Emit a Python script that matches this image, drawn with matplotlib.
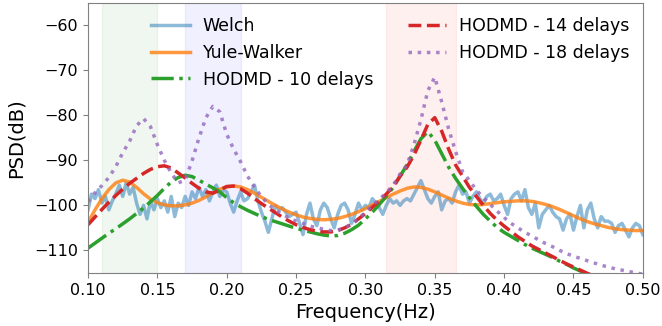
"""
PSD comparison: Welch vs Yule-Walker vs HODMD
"""

import numpy as np
import matplotlib
matplotlib.use('Agg')
import matplotlib.pyplot as plt

# Welch estimate, 0.0025 Hz spacing from 0.10 to 0.50
welch_freq = np.round(np.arange(0.100, 0.50001, 0.0025), 4)
welch_psd = [
    -101, -97.5, -98.5, -96.5, -99.5, -98, -101, -99, -97.5, -95.5,
    -98, -95, -97.5, -96, -99.5, -102, -100, -103, -99, -101,
    -98.5, -100.5, -99, -101.5, -98, -102.5, -99.5, -100.5, -98, -100,
    -97, -98.5, -96, -98, -96.5, -99, -97, -95.5, -98, -96.5,
    -97, -99.5, -101.5, -99, -97, -99, -98.5, -97, -95.5, -99,
    -101.5, -103.5, -106, -103, -100, -101, -100.5, -101.5, -102.5, -102,
    -101.5, -104, -106.5, -102, -99.5, -103, -104.5, -101, -99.5, -100.5,
    -103, -105, -102, -100, -99.5, -101, -104, -102, -99.5, -101,
    -100, -100.5, -98.5, -99.5, -100.5, -102, -100, -98.5, -99.5, -99,
    -100, -99, -98.5, -99, -97.5, -96, -94.5, -96.5, -98.5, -99.5,
    -98, -97, -101, -99, -98.5, -99.5, -97, -95.5, -97.5, -97,
    -99.5, -98, -97, -98.5, -99.5, -98, -97.5, -99, -98.5, -97.5,
    -100, -102, -98.5, -97.5, -97, -99, -96.5, -100.5, -102, -99.5,
    -105, -102, -101, -100, -101.5, -102.5, -103, -105.5, -103, -102,
    -105.5, -102.5, -100, -105, -101, -99.5, -103, -105, -102.5, -103.5,
    -103.5, -104, -106, -104.5, -104, -105.5, -107, -105, -104, -104.5,
    -106.5,
]

# parametric / HODMD estimates, 0.005 Hz spacing from 0.10 to 0.50
freq = np.round(np.arange(0.100, 0.50001, 0.005), 3)

yule_walker = [
    -103.8, -101, -98.5, -96.5, -95, -94.4, -94.8, -96, -97.4, -98.6,
    -99.4, -99.9, -100.1, -100.1, -99.9, -99.5, -98.9, -98.1, -97.2, -96.4,
    -95.9, -95.7, -95.9, -96.5, -97.3, -98.2, -99.1, -100, -100.8, -101.5,
    -102.1, -102.6, -102.9, -103.1, -103.2, -103.1, -102.9, -102.5, -102, -101.4,
    -100.7, -99.9, -99.1, -98.3, -97.5, -96.8, -96.2, -95.9, -96, -96.4,
    -97, -97.7, -98.4, -99, -99.5, -99.8, -99.9, -99.8, -99.6, -99.4,
    -99.2, -99.1, -99.0, -99.0, -99.1, -99.4, -99.8, -100.3, -100.9, -101.6,
    -102.3, -103, -103.6, -104.1, -104.5, -104.9, -105.2, -105.4, -105.5, -105.6,
    -105.6,
]

hodmd_10 = [
    -109.5, -108.4, -107.3, -106.2, -105.2, -104.1, -103, -101.8, -100.6, -99.2,
    -97.8, -96.2, -94.8, -93.8, -93.3, -93.6, -94.4, -95.3, -96.1, -97,
    -98.3, -99.4, -100.3, -101.1, -101.8, -102.5, -103.1, -103.6, -104.1, -104.6,
    -105.1, -105.5, -105.9, -106.3, -106.6, -106.8, -106.7, -106.2, -105.4, -104.4,
    -103, -101.5, -99.8, -98, -96, -93.5, -91, -88, -85.2, -83.6,
    -85.5, -88.5, -91.5, -94, -96.2, -98.3, -100.2, -102, -103.5, -104.9,
    -106, -106.9, -107.8, -108.7, -109.5, -110.2, -110.9, -111.6, -112.4, -113.1,
    -113.9, -114.6, -115.3, -116, -116.6, -117.2, -117.8, -118.3, -118.8, -119.3,
    -119.8,
]

hodmd_14 = [
    -104.3, -102.6, -100.9, -99.3, -97.8, -96.4, -95.1, -94, -92.9, -92,
    -91.4, -91.2, -91.7, -92.8, -93.9, -95.1, -96.2, -97, -97.3, -96.6,
    -95.8, -95.7, -96.3, -97.3, -98.5, -99.6, -100.6, -101.6, -102.6, -103.5,
    -104.3, -104.9, -105.4, -105.7, -105.9, -105.9, -105.6, -105, -104.2, -103,
    -101.8, -100.4, -99, -97.5, -95.8, -93.5, -91.5, -88.8, -85.5, -82,
    -80.5, -83.5, -87.5, -91, -93.5, -96, -98, -100, -101.8, -103.3,
    -104.6, -105.8, -107, -108, -109, -109.8, -110.6, -111.4, -112.2, -113,
    -113.7, -114.4, -115.1, -115.7, -116.3, -116.9, -117.4, -117.9, -118.4, -118.9,
    -119.3,
]

hodmd_18 = [
    -99.2, -97.2, -95.6, -93.8, -91.4, -88.3, -85.7, -82.3, -80.7, -82.5,
    -86.5, -90, -92.8, -95, -94.4, -90.1, -85, -80.5, -78, -79.2,
    -84.2, -87.5, -90.3, -93.5, -96, -98, -99.8, -101, -102, -102.8,
    -103.5, -104, -104.6, -105, -105.3, -105.6, -105.5, -105, -104.2, -103,
    -101.5, -100, -98.7, -97.2, -95.5, -93, -91, -86.5, -81, -74.5,
    -71.5, -77, -83, -88, -92.5, -94.5, -96.6, -98.3, -99.8, -101.3,
    -102.7, -104, -105, -106, -106.8, -107.7, -108.5, -109.2, -110, -110.7,
    -111.3, -111.8, -112.3, -112.8, -113.3, -113.7, -114.1, -114.4, -114.7, -115,
    -115.3,
]

# frequency bands highlighted
bands = [(0.11, 0.15, 'green'), (0.17, 0.21, 'blue'), (0.315, 0.365, 'red')]

fig = plt.figure(figsize=(6.62, 3.26), dpi=100)
ax = fig.add_axes([0.133, 0.163, 0.838, 0.828])

for lo, hi, c in bands:
    ax.axvspan(lo, hi, color=c, alpha=0.06)

ax.plot(welch_freq, welch_psd, color='tab:blue', alpha=0.5, lw=2.5, label='Welch')
ax.plot(freq, yule_walker, color='tab:orange', alpha=0.8, lw=2.5, label='Yule-Walker')
ax.plot(freq, hodmd_10, color='tab:green', lw=2.5, ls='-.', label='HODMD - 10 delays')
ax.plot(freq, hodmd_14, color='tab:red', lw=2.5, ls='--', label='HODMD - 14 delays')
ax.plot(freq, hodmd_18, color='tab:purple', alpha=0.8, lw=2.5, ls=':', label='HODMD - 18 delays')

ax.set_xlim(0.10, 0.50)
ax.set_ylim(-115, -55)
ax.set_xticks(np.arange(0.10, 0.501, 0.05))
ax.xaxis.set_major_formatter(matplotlib.ticker.FormatStrFormatter('%.2f'))
ax.set_yticks([-110, -100, -90, -80, -70, -60])
ax.tick_params(labelsize=11.5, color='0.5')
for s in ax.spines.values():
    s.set_color('0.5')

ax.set_xlabel('Frequency(Hz)', fontsize=14, labelpad=4)
ax.set_ylabel('PSD(dB)', fontsize=14, labelpad=6)

ax.legend(ncol=2, frameon=False, fontsize=12.5, loc='upper left',
          bbox_to_anchor=(0.086, 1.005), columnspacing=2.0, handlelength=2.2,
          handletextpad=0.75, labelspacing=0.5)

fig.savefig('out.png', dpi=100)
